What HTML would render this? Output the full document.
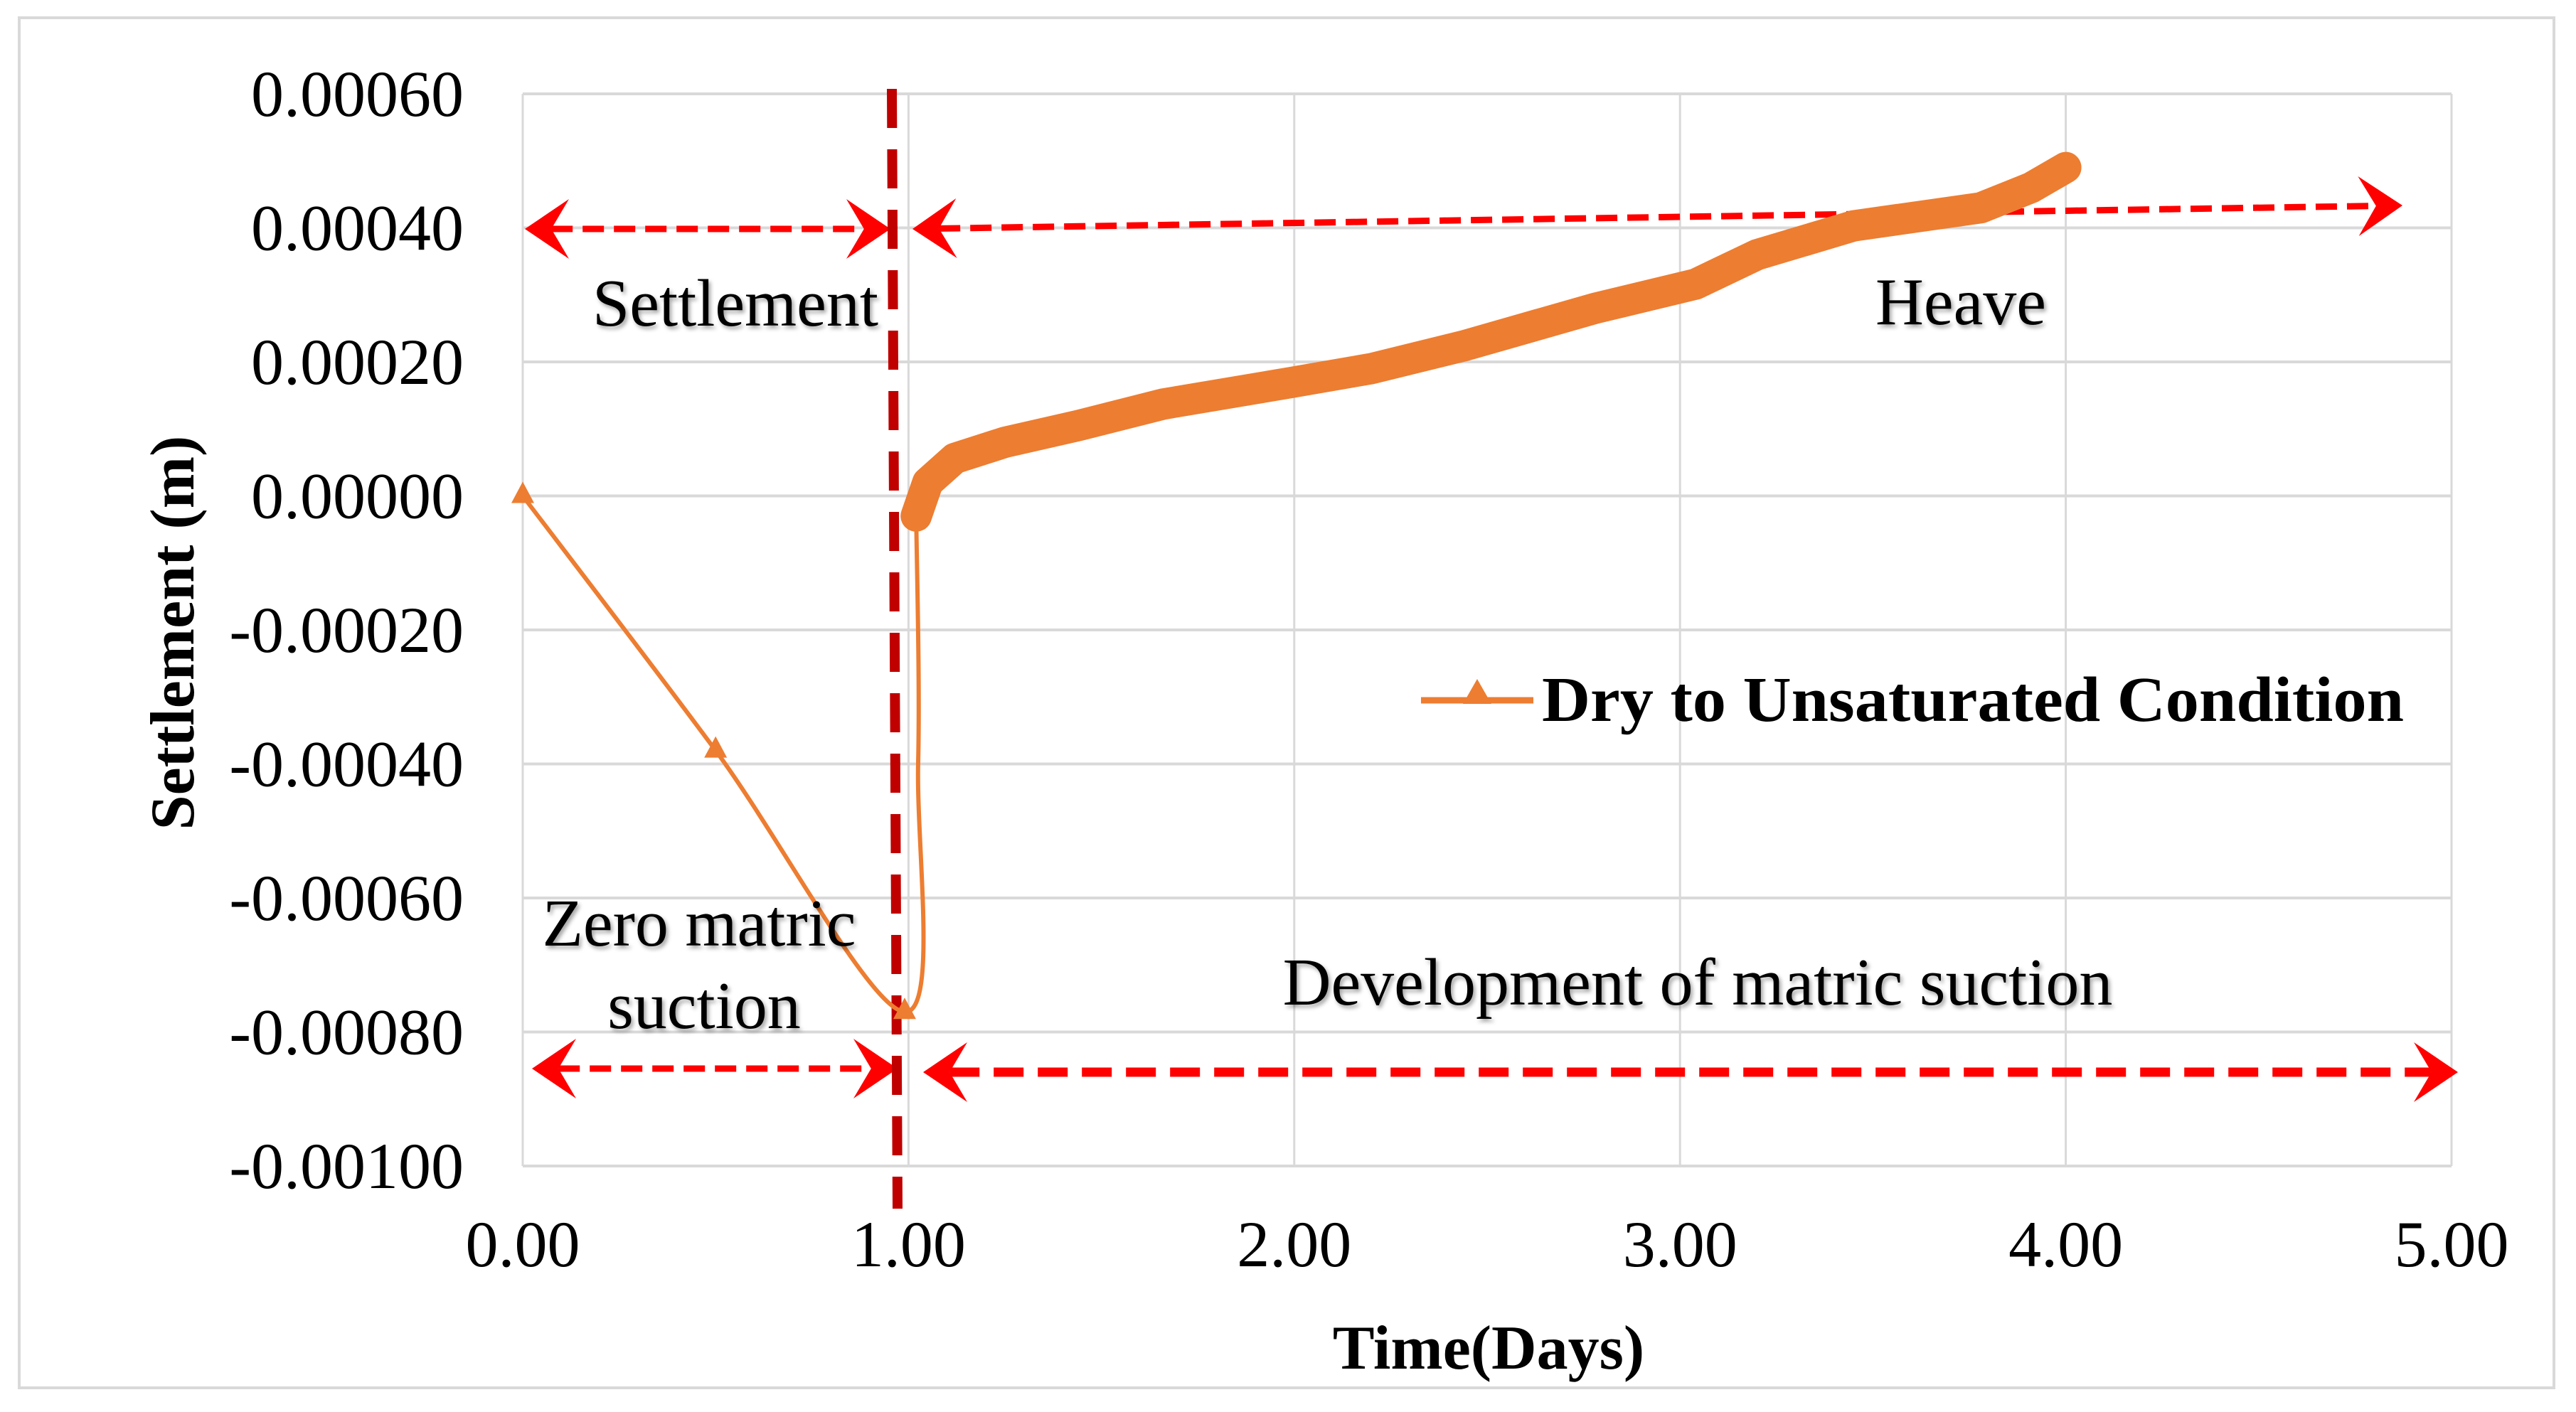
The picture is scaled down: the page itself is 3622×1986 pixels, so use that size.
<!DOCTYPE html>
<html><head><meta charset="utf-8"><style>
html,body{margin:0;padding:0;background:#fff;}
svg{display:block;}
text{font-family:"Liberation Serif",serif;fill:#000;}
.ann{font-size:94px;filter:drop-shadow(3px 4px 3px rgba(0,0,0,0.35));}
</style></head><body>
<svg id="chart" width="3622" height="1986" viewBox="0 0 3622 1986">
<rect x="27" y="25" width="3564" height="1927" fill="#fff" stroke="#d9d9d9" stroke-width="4"/>
<g id="grid"></g>
<g id="ticks"></g>
<text x="2093" y="1925" font-size="88" font-weight="bold" text-anchor="middle">Time(Days)</text>
<text transform="translate(272,890) rotate(-90)" font-size="88" font-weight="bold" text-anchor="middle">Settlement (m)</text>
<g id="arrows"></g>
<line x1="1254" y1="125" x2="1262" y2="1700" stroke="#c00000" stroke-width="14" stroke-dasharray="55 30"/>
<g id="series"></g>
<text class="ann" x="1034" y="458" text-anchor="middle">Settlement</text>
<text class="ann" x="2757" y="456" text-anchor="middle">Heave</text>
<text class="ann" x="983" y="1330" text-anchor="middle">Zero matric</text>
<text class="ann" x="990" y="1446" text-anchor="middle">suction</text>
<text class="ann" x="2387" y="1413" text-anchor="middle">Development of matric suction</text>
<g>
<line x1="1998" y1="985" x2="2156" y2="985" stroke="#ED7D31" stroke-width="9"/>
<polygon points="2077,955 2097,990 2057,990" fill="#ED7D31"/>
<text x="2168" y="1014" font-size="90" font-weight="bold" textLength="1212" lengthAdjust="spacingAndGlyphs">Dry to Unsaturated Condition</text>
</g>
</svg>
<script>
const xTicks=[0,1,2,3,4,5];
const xTickLabels=["0.00","1.00","2.00","3.00","4.00","5.00"];
const yTicks=[0.0006,0.0004,0.0002,0,-0.0002,-0.0004,-0.0006,-0.0008,-0.001];
const yTickLabels=["0.00060","0.00040","0.00020","0.00000","-0.00020","-0.00040","-0.00060","-0.00080","-0.00100"];
const thinDays=[0,0.5,0.99,1.025,1.02];
const thinVals=[0,-0.00038,-0.00077,-0.0004,-0.00003];
const markerDays=[0,0.5,0.99];
const markerVals=[0,-0.00038,-0.00077];
const bandDays=[1.02,1.05,1.12,1.25,1.44,1.66,1.99,2.2,2.44,2.78,3.04,3.2,3.45,3.78,3.91,4.0];
const bandVals=[-0.00003,0.00002,0.000056,0.00008,0.000105,0.000137,0.000169,0.00019,0.000224,0.00028,0.000316,0.00036,0.000403,0.00043,0.00046,0.00049];
const X0=735,X1=3447,Y0=132,Y1=1640,xmin=0,xmax=5,ymin=-0.001,ymax=0.0006;
function sx(d){return X0+(d-xmin)/(xmax-xmin)*(X1-X0);}
function sy(v){return Y1-(v-ymin)/(ymax-ymin)*(Y1-Y0);}
const NS="http://www.w3.org/2000/svg";
function mk(tag,attrs,parent){const e=document.createElementNS(NS,tag);for(const k in attrs)e.setAttribute(k,attrs[k]);parent.appendChild(e);return e;}
const grid=document.getElementById('grid'),ticks=document.getElementById('ticks');
yTicks.forEach((v,i)=>{
 const l=mk('line',{x1:X0,x2:X1,y1:sy(v),y2:sy(v),stroke:'#d9d9d9','stroke-width':4},grid);
 
 
 const t=mk('text',{x:652,y:sy(v)+31,'font-size':92,'text-anchor':'end'},ticks);
 t.textContent=yTickLabels[i];
 
 
});
xTicks.forEach((d,i)=>{
 const l=mk('line',{x1:sx(d),x2:sx(d),y1:Y0,y2:Y1,stroke:'#d9d9d9','stroke-width':3},grid);
 
 
 const t=mk('text',{x:sx(d),y:1781,'font-size':92,'text-anchor':'middle'},ticks);
 t.textContent=xTickLabels[i];
 
 
});
const arrows=document.getElementById('arrows');
function arrow(x1,y1,x2,y2,w,dash,name){
 const g=mk('g',{},arrows);
 
 
 const ang=Math.atan2(y2-y1,x2-x1),L=62,H=42;
 function head(x,y,a){const bx=x-Math.cos(a)*L,by=y-Math.sin(a)*L;const nx=-Math.sin(a),ny=Math.cos(a);
  const ix=x-Math.cos(a)*L*0.6,iy=y-Math.sin(a)*L*0.6;
  mk('polygon',{points:`${x},${y} ${bx+nx*H},${by+ny*H} ${ix},${iy} ${bx-nx*H},${by-ny*H}`,fill:'#ff0000'},g);}
 const ox=Math.cos(ang)*L*0.6,oy=Math.sin(ang)*L*0.6;
 mk('line',{x1:x1+ox,y1:y1+oy,x2:x2-ox,y2:y2-oy,stroke:'#ff0000','stroke-width':w,'stroke-dasharray':dash},g);
 head(x2,y2,ang);
 head(x1,y1,ang+Math.PI);
}
arrow(738,322,1252,322,9,"30 14","settlement-arrow");
arrow(1283,322,3378,289,9,"30 14","heave-arrow");
arrow(748,1503,1262,1503,9,"30 14","zero-suction-arrow");
arrow(1298,1508,3456,1508,13,"42 20","suction-development-arrow");
const series=document.getElementById('series');
const pts=thinDays.map((d,i)=>[sx(d),sy(thinVals[i])]);
let p=`M${pts[0][0]},${pts[0][1]}`;
for(let i=0;i<pts.length-1;i++){
 const p0=pts[Math.max(0,i-1)],p1=pts[i],p2=pts[i+1],p3=pts[Math.min(pts.length-1,i+2)];
 const c1=[p1[0]+(p2[0]-p0[0])/6,p1[1]+(p2[1]-p0[1])/6],c2=[p2[0]-(p3[0]-p1[0])/6,p2[1]-(p3[1]-p1[1])/6];
 p+=` C${c1[0]},${c1[1]} ${c2[0]},${c2[1]} ${p2[0]},${p2[1]}`;
}
const thin=mk('path',{d:p,fill:'none',stroke:'#ED7D31','stroke-width':6},series);


markerDays.forEach((d,i)=>{
 const x=sx(d),y=sy(markerVals[i]);
 const m=mk('polygon',{points:`${x},${y-20} ${x+16},${y+10} ${x-16},${y+10}`,fill:'#ED7D31'},series);
 
 
});
const band=mk('polyline',{points:bandDays.map((d,i)=>sx(d)+','+sy(bandVals[i])).join(' '),fill:'none',stroke:'#ED7D31','stroke-width':44,'stroke-linejoin':'round','stroke-linecap':'round'},series);


</script>
</body></html>
